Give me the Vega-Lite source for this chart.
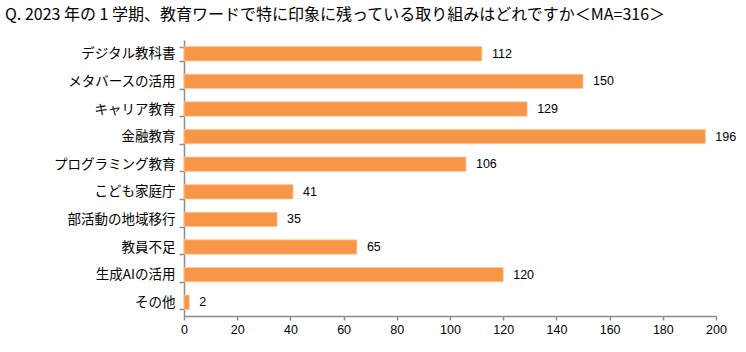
{
  "$schema": "https://vega.github.io/schema/vega-lite/v6.json",
  "autosize": "none",
  "width": 532,
  "height": 276,
  "padding": {"left": 184, "top": 40, "right": 30, "bottom": 36},
  "background": "white",
  "title": {
    "text": "Q. 2023 年の 1 学期、教育ワードで特に印象に残っている取り組みはどれですか＜MA=316＞",
    "anchor": "start",
    "frame": "group",
    "dx": -179,
    "offset": 2,
    "baseline": "middle",
    "font": "Noto Sans CJK JP",
    "fontSize": 16,
    "fontWeight": "normal",
    "color": "#000000"
  },
  "config": {
    "view": {"stroke": null},
    "font": "Noto Sans CJK JP"
  },
  "data": {
    "values": [
      {"item": "デジタル教科書", "count": 112},
      {"item": "メタバースの活用", "count": 150},
      {"item": "キャリア教育", "count": 129},
      {"item": "金融教育", "count": 196},
      {"item": "プログラミング教育", "count": 106},
      {"item": "こども家庭庁", "count": 41},
      {"item": "部活動の地域移行", "count": 35},
      {"item": "教員不足", "count": 65},
      {"item": "生成AIの活用", "count": 120},
      {"item": "その他", "count": 2}
    ]
  },
  "encoding": {
    "y": {
      "field": "item",
      "type": "nominal",
      "sort": null,
      "scale": {"paddingInner": 0.48, "paddingOuter": 0.24},
      "axis": {
        "title": null,
        "domainColor": "#8c8c8c",
        "domainWidth": 1.5,
        "tickColor": "#8c8c8c",
        "tickWidth": 1.5,
        "tickSize": 5,
        "tickBand": "extent",
        "labelFont": "Noto Sans CJK JP",
        "labelFontSize": 13.5,
        "labelColor": "#000000",
        "labelPadding": 4
      }
    },
    "x": {
      "field": "count",
      "type": "quantitative",
      "scale": {"domain": [0, 200], "nice": false},
      "axis": {
        "title": null,
        "values": [0, 20, 40, 60, 80, 100, 120, 140, 160, 180, 200],
        "grid": false,
        "domainColor": "#8c8c8c",
        "domainWidth": 1.5,
        "tickColor": "#8c8c8c",
        "tickWidth": 1.5,
        "tickSize": 4,
        "labelFont": "Liberation Sans",
        "labelFontSize": 12.5,
        "labelColor": "#000000",
        "labelPadding": 3,
        "labelFlush": false
      }
    }
  },
  "layer": [
    {
      "mark": {"type": "bar", "color": "#F79646", "stroke": "#FBC9A0", "strokeWidth": 0.8}
    },
    {
      "mark": {"type": "text", "align": "left", "baseline": "middle", "dx": 10, "font": "Liberation Sans", "fontSize": 12.5, "color": "#000000"},
      "encoding": {"text": {"field": "count", "type": "quantitative"}}
    }
  ]
}
